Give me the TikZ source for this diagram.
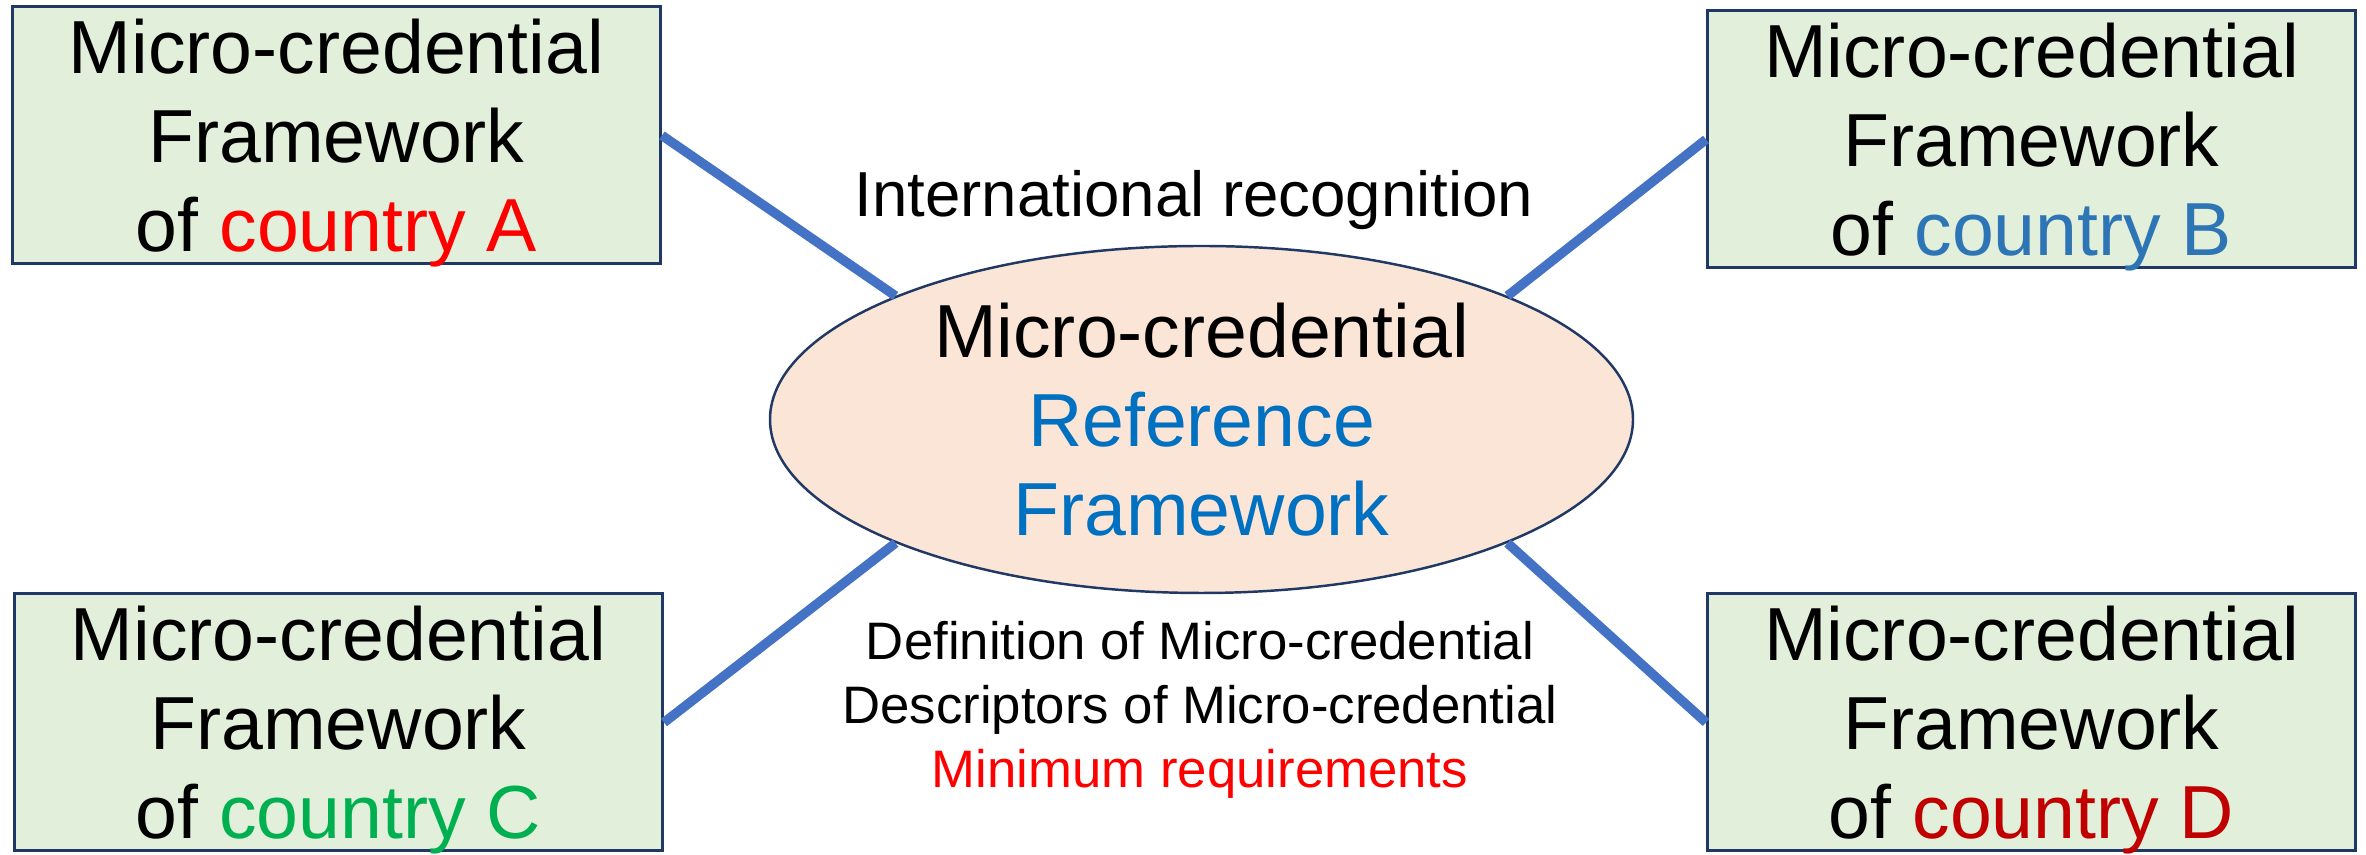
\documentclass[tikz,border=0pt]{standalone}
\usepackage{fontspec}
\setmainfont{Liberation Sans}
\usepackage{tikz}
\usetikzlibrary{shapes.geometric}
\definecolor{boxgreen}{HTML}{E2EFDA}
\definecolor{boxedge}{HTML}{203864}
\definecolor{ellfill}{HTML}{FBE5D6}
\definecolor{linkblue}{HTML}{4472C4}
\definecolor{refblue}{HTML}{0070C0}
\definecolor{countryB}{HTML}{2E75B6}
\definecolor{countryC}{HTML}{00B050}
\definecolor{countryD}{HTML}{C00000}
\tikzstyle{frambox} = [draw=boxedge, line width=0.85pt, fill=boxgreen,
  minimum width=6.48cm, minimum height=2.57cm, inner sep=0pt,
  align=center, text depth=0pt,
  font=\fontsize{21.4}{25.3}\selectfont]
\tikzstyle{refbox} = [ellipse, draw=boxedge, line width=0.7pt, fill=ellfill,
  minimum width=8.63cm, minimum height=3.47cm, inner sep=0pt,
  align=center, text depth=0pt,
  font=\fontsize{21.4}{25.3}\selectfont]
\tikzstyle{linkline} = [draw=linkblue, line width=2.7pt]

\begin{document}
\begin{tikzpicture}
  \useasboundingbox (0, 0) rectangle (23.66, 8.55);

  \node[frambox] (boxA) at (3.365, 7.195)
    {Micro-credential\\Framework\\of \textcolor{red}{country A}};
  \node[frambox] (boxB) at (20.315, 7.155)
    {Micro-credential\\Framework\\of \textcolor{countryB}{country B}};
  \node[frambox] (boxC) at (3.385, 1.325)
    {Micro-credential\\Framework\\of \textcolor{countryC}{country C}};
  \node[frambox] (boxD) at (20.315, 1.325)
    {Micro-credential\\Framework\\of \textcolor{countryD}{country D}};

  \node[refbox] (refell) at (12.015, 4.355)
    {Micro-credential\\\textcolor{refblue}{Reference}\\\textcolor{refblue}{Framework}};

  \node[font=\fontsize{18.1}{21}\selectfont] (intl) at (11.94, 6.55)
    {International recognition};
  \node[align=center, font=\fontsize{15}{18.2}\selectfont] (reqs) at (12.0, 1.455)
    {Definition of Micro-credential\\Descriptors of Micro-credential\\
     \textcolor{red}{Minimum requirements}};

  \draw[linkline] (boxA.east) -- (refell.north west);
  \draw[linkline] (boxB.west) -- (refell.north east);
  \draw[linkline] (boxC.east) -- (refell.south west);
  \draw[linkline] (boxD.west) -- (refell.south east);
\end{tikzpicture}
\end{document}
